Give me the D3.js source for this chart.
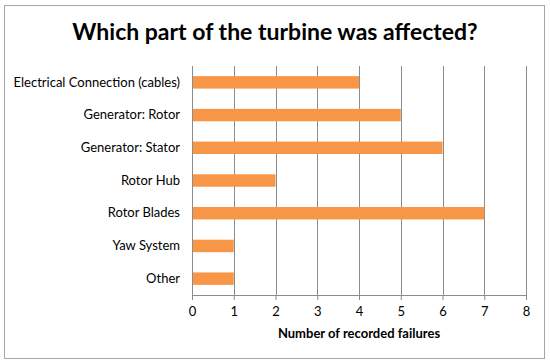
<!DOCTYPE html>
<html>
<head>
<meta charset="utf-8">
<script src="https://cdn.jsdelivr.net/npm/d3@7"></script>
<style>
  body { margin: 0; background: #fff; }
  svg { display: block; font-family: Lato, "Open Sans", sans-serif; }
</style>
</head>
<body>
<div id="chart"></div>
<script>
// Data
var categories = ["Electrical Connection (cables)", "Generator: Rotor", "Generator: Stator",
  "Rotor Hub", "Rotor Blades", "Yaw System", "Other"];
var failures = [4, 5, 6, 2, 7, 1, 1];
var xTicks = [0, 1, 2, 3, 4, 5, 6, 7, 8];
var chartTitle = "Which part of the turbine was affected?";
var xTitle = "Number of recorded failures";

var width = 550, height = 363;
var margin = { top: 66, right: 24, bottom: 68, left: 192 };
var fontFamily = "Lato, 'Open Sans', sans-serif";

var svg = d3.select("#chart").append("svg")
  .attr("width", width)
  .attr("height", height);

// Outer chart frame
svg.append("rect")
  .attr("x", 4.5).attr("y", 5.5)
  .attr("width", 540).attr("height", 353)
  .attr("fill", "#fff")
  .attr("stroke", "#a6a6a6")
  .attr("stroke-width", 1);

var xScale = d3.scaleLinear()
  .domain([0, 8])
  .range([margin.left, width - margin.right]);

var yScale = d3.scaleBand()
  .domain(categories)
  .range([margin.top, height - margin.bottom])
  .paddingInner(0.62)
  .paddingOuter(0.31);

// Vertical gridlines
svg.append("g")
  .selectAll("line")
  .data(xTicks)
  .enter()
  .append("line")
  .attr("x1", d => Math.round(xScale(d)) + 0.5)
  .attr("x2", d => Math.round(xScale(d)) + 0.5)
  .attr("y1", margin.top)
  .attr("y2", height - margin.bottom)
  .attr("stroke", "#8c8c8c")
  .attr("stroke-width", 1);

// Bars
svg.append("g")
  .selectAll("rect")
  .data(failures)
  .enter()
  .append("rect")
  .attr("x", xScale(0) + 1)
  .attr("y", (d, i) => yScale(categories[i]))
  .attr("width", d => xScale(d) - xScale(0) - 1)
  .attr("height", yScale.bandwidth())
  .attr("fill", "#f79646");

// x axis
var xAxis = d3.axisBottom(xScale)
  .tickValues(xTicks)
  .tickSize(5)
  .tickFormat(d3.format("d"));

var gx = svg.append("g")
  .attr("class", "x-axis")
  .attr("transform", "translate(0," + (height - margin.bottom) + ")")
  .call(xAxis);
gx.attr("font-family", fontFamily);
gx.select(".domain").attr("stroke", "#8c8c8c").attr("d",
  "M" + xScale(0) + ",0.5H" + xScale(8));
gx.selectAll(".tick line").attr("stroke", "#8c8c8c");
gx.selectAll(".tick text")
  .attr("y", 12)
  .attr("fill", "#000")
  .style("font-size", "13px");

// y axis labels
var yAxis = d3.axisLeft(yScale).tickSize(0).tickPadding(12);
var gy = svg.append("g")
  .attr("class", "y-axis")
  .attr("transform", "translate(" + margin.left + ",0)")
  .call(yAxis);
gy.attr("font-family", fontFamily);
gy.select(".domain").remove();
gy.selectAll(".tick text")
  .attr("fill", "#000")
  .style("font-size", "13px");

// Title
svg.append("text")
  .attr("x", 275)
  .attr("y", 40)
  .attr("text-anchor", "middle")
  .style("font-size", "23px")
  .style("font-weight", "bold")
  .text(chartTitle);

// Axis title
svg.append("text")
  .attr("x", (xScale(0) + xScale(8)) / 2)
  .attr("y", 338)
  .attr("text-anchor", "middle")
  .style("font-size", "13px")
  .style("font-weight", "bold")
  .text(xTitle);
</script>
</body>
</html>
